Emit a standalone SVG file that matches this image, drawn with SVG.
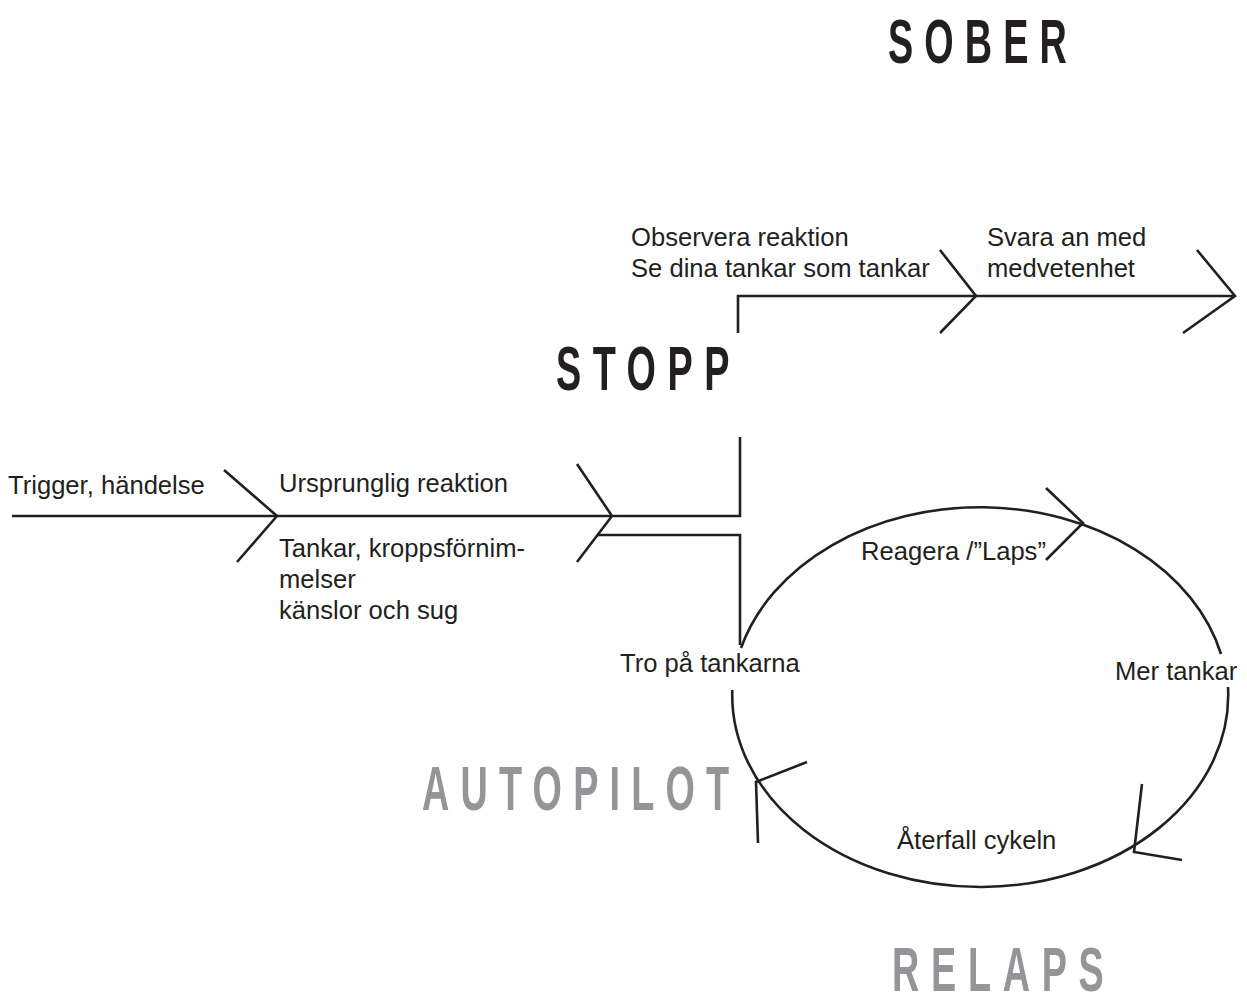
<svg xmlns="http://www.w3.org/2000/svg" width="1247" height="1000" viewBox="0 0 1247 1000">
<style>
.ln{fill:none;stroke:#231f20;stroke-width:2.6;stroke-linejoin:miter;stroke-linecap:butt}
.lb{font-family:"Liberation Sans",Arial,sans-serif;font-size:25.6px;fill:#231f20}
.big{font-family:"Liberation Sans",Arial,sans-serif;font-weight:bold;font-size:63px}
.dark{fill:#231f20}
.gray{fill:#939598}
</style>
<rect width="1247" height="1000" fill="#ffffff"/>
<g id="connectors">
  <path class="ln" d="M12,516 H740 V437"/>
  <polyline class="ln" points="224,470 277,516 237,562"/>
  <polyline class="ln" points="577,464 612,516 577,562"/>
  <path class="ln" d="M597,535 H740 V645"/>
  <path class="ln" d="M738,333 V296 H1235"/>
  <polyline class="ln" points="940,250 976,296 940,333"/>
  <polyline class="ln" points="1197,250 1235,296 1183,333"/>
  <path class="ln" d="M1221,654 A248,192 0 0 0 741,648"/>
  <path class="ln" d="M732.3,690 A248,192 0 1 0 1228,687"/>
  <polyline class="ln" points="1046,488 1083,523 1046,560"/>
  <polyline class="ln" points="1142,784 1134,852 1182,860"/>
  <polyline class="ln" points="807,762 756,782 758,843"/>
</g>
<g id="sober"><text class="big dark" transform="translate(888,63) scale(0.6,1)" x="0" y="0" textLength="298" lengthAdjust="spacing">SOBER</text></g>
<g id="stopp"><text class="big dark" transform="translate(556,390) scale(0.6,1)" x="0" y="0" textLength="289" lengthAdjust="spacing">STOPP</text></g>
<g id="autopilot"><text class="big gray" transform="translate(422,810) scale(0.6,1)" x="0" y="0" textLength="512" lengthAdjust="spacing">AUTOPILOT</text></g>
<g id="relaps"><text class="big gray" transform="translate(892,991) scale(0.6,1)" x="0" y="0" textLength="353" lengthAdjust="spacing">RELAPS</text></g>
<g id="trigger"><text class="lb" x="8" y="494">Trigger, händelse</text></g>
<g id="ursprunglig"><text class="lb" x="279" y="492">Ursprunglig reaktion</text></g>
<g id="tankar"><text class="lb" x="279" y="557">Tankar, kroppsförnim-</text><text class="lb" x="279" y="588">melser</text><text class="lb" x="279" y="619">känslor och sug</text></g>
<g id="observera"><text class="lb" x="631" y="246">Observera reaktion</text><text class="lb" x="631" y="277">Se dina tankar som tankar</text></g>
<g id="svara"><text class="lb" x="987" y="246">Svara an med</text><text class="lb" x="987" y="277">medvetenhet</text></g>
<g id="reagera"><text class="lb" x="861" y="560">Reagera /”Laps”</text></g>
<g id="tro"><text class="lb" x="620" y="672">Tro på tankarna</text></g>
<g id="mer"><text class="lb" x="1115" y="680">Mer tankar</text></g>
<g id="aterfall"><text class="lb" x="897" y="849">Återfall cykeln</text></g>
</svg>
